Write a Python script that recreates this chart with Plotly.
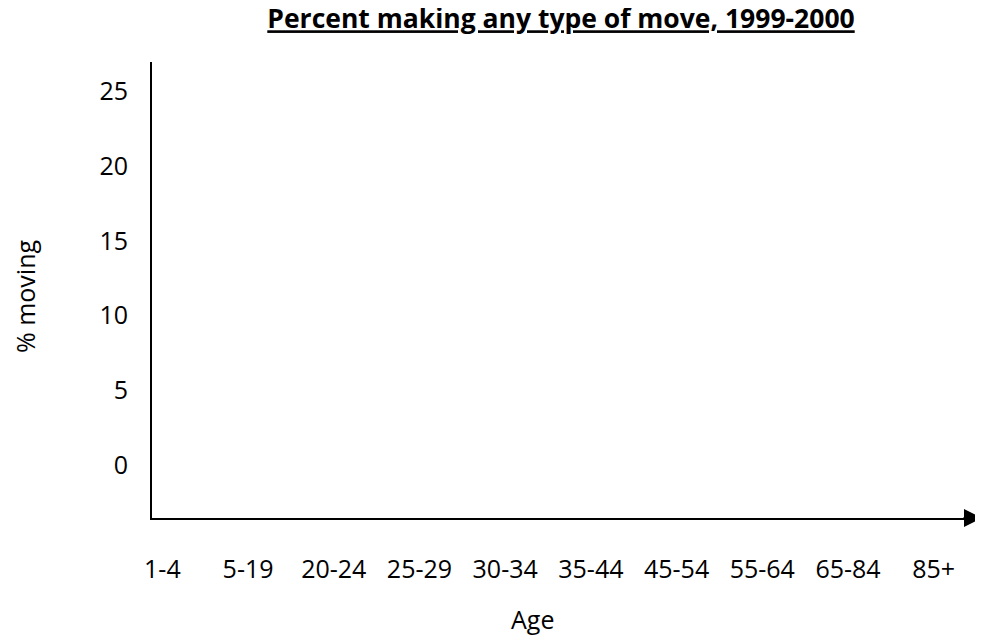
import plotly.graph_objects as go

# Data (the reference chart shows empty axes: no values are plotted)
age_groups = ["1-4", "5-19", "20-24", "25-29", "30-34", "35-44", "45-54", "55-64", "65-84", "85+"]
percent_moving = [None, None, None, None, None, None, None, None, None, None]
y_ticks = [0, 5, 10, 15, 20, 25]

title_text = "Percent making any type of move, 1999-2000"
x_title = "Age"
y_title = "% moving"

FONT = "Open Sans"

fig = go.Figure()
fig.add_trace(go.Scatter(x=age_groups, y=percent_moving, mode="markers",
                         marker=dict(color="black"), showlegend=False, hoverinfo="skip"))

# The page body has an 8px default margin, so the figure is sized/offset to fill the window
OFF = 8
W, H = 983 - OFF, 636 - OFF
L, R, T, B = 152 - OFF, 8, 62 - OFF, 118
pw, ph = W - L - R, H - T - B
axis_y = H - B  # figure pixel row of x-axis


def px_x(sx):  # screen x -> paper x
    return (sx - OFF - L) / pw


def px_y(sy):  # screen y -> paper y
    return (axis_y - (sy - OFF)) / ph


fig.update_layout(
    width=W, height=H,
    margin=dict(l=L, r=R, t=T, b=B, pad=0),
    paper_bgcolor="white", plot_bgcolor="white",
    font=dict(family=FONT, size=25, color="black"),
    title=dict(text="<b><u>" + title_text + "</u></b>", font=dict(family=FONT, size=26.5, color="black"),
               xref="container", x=(561 - OFF) / W, xanchor="center",
               yref="container", y=1 - (19 - OFF) / H, yanchor="middle"),
    xaxis=dict(type="category", categoryorder="array", categoryarray=age_groups,
               range=[-0.121, 9.482], showline=True, linecolor="black", linewidth=2,
               showgrid=False, zeroline=False, ticks="", ticklabelstandoff=28,
               tickfont=dict(family=FONT, size=25, color="black"), fixedrange=True),
    yaxis=dict(range=[-3.52, 26.96], tickvals=y_ticks, showline=True, linecolor="black",
               linewidth=2, showgrid=False, zeroline=False, ticks="", ticklabelstandoff=17,
               tickfont=dict(family=FONT, size=25, color="black"), fixedrange=True),
    annotations=[
        dict(text=x_title, xref="paper", yref="paper", x=px_x(532), y=px_y(619),
             xanchor="center", yanchor="middle", showarrow=False,
             font=dict(family=FONT, size=25, color="black")),
        dict(text=y_title, xref="paper", yref="paper", x=px_x(25), y=px_y(297),
             xanchor="center", yanchor="middle", showarrow=False, textangle=-90,
             font=dict(family=FONT, size=25, color="black")),
        # arrowhead at the right end of the x-axis
        dict(text="", xref="paper", yref="paper", x=px_x(986), y=0,
             ax=-24, ay=0, showarrow=True, arrowhead=2, arrowsize=1.8, arrowwidth=2,
             arrowcolor="black"),
    ],
)

fig.write_html("out.html")
